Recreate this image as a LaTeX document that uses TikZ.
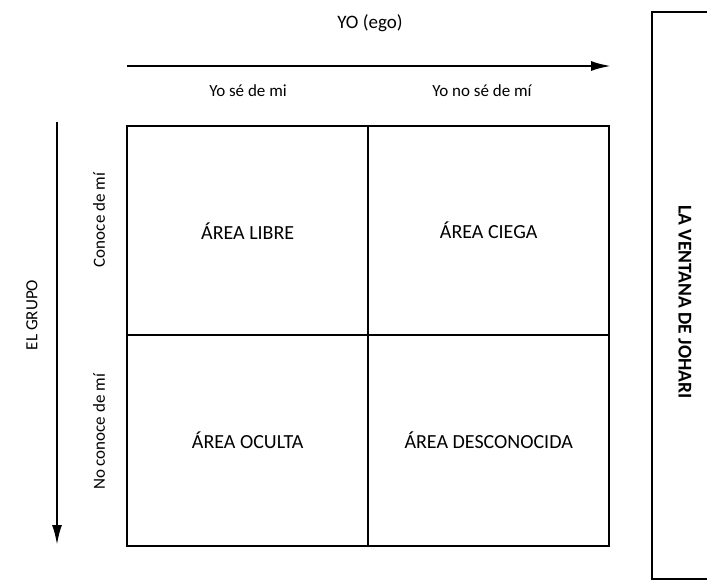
\documentclass[tikz,border=0pt]{standalone}
\usepackage{fontspec}
\setmainfont{Carlito}
\usetikzlibrary{arrows.meta}
\begin{document}
\begin{tikzpicture}[x=1pt,y=-1pt,
  cell/.style={draw, line width=2.4pt, minimum width=241pt, minimum height=209pt, inner sep=0pt, anchor=north west, font=\fontsize{20}{22}\selectfont},
  lbl/.style={inner sep=0pt, font=\fontsize{17}{20}\selectfont},
  axis/.style={line width=2.2pt, -{Latex[length=20pt,width=10pt]}},
  frameline/.style={line width=2.8pt, line cap=rect}]
\useasboundingbox (0,0) rectangle (707,582);
% grid cells
\node[cell] (libre) at (126,125) {ÁREA LIBRE};
\node[cell] (ciega) at (367,125) {ÁREA CIEGA};
\node[cell, minimum height=211pt] (oculta) at (126,334) {ÁREA OCULTA};
\node[cell, minimum height=211pt] (desc) at (367,334) {ÁREA DESCONOCIDA};
% top axis
\node[lbl, font=\fontsize{19}{22}\selectfont] (yo) at (370,23) {YO (ego)};
\coordinate (ta) at (127,66);
\coordinate (tb) at (611,66);
\draw[axis] (ta) -- (tb);
\node[lbl] (se) at (248,91) {Yo sé de mi};
\node[lbl] (nose) at (482,91) {Yo no sé de mí};
% left axis
\coordinate (la) at (57,122);
\coordinate (lb) at (57,545);
\draw[axis] (la) -- (lb);
\node[lbl] [rotate=90] (grupo) at (32,315) {EL GRUPO};
\node[lbl] [rotate=90] (conoce) at (99,220) {Conoce de mí};
\node[lbl] [rotate=90] (noconoce) at (99,432) {No conoce de mí};
% right frame (open on the right, cut by the page edge)
\coordinate (ra) at (712,12);
\coordinate (rb) at (652,12);
\coordinate (rc) at (652,579);
\coordinate (rd) at (712,579);
\draw[frameline] (rb) -- (ra);
\draw[frameline] (rb) -- (rc);
\draw[frameline] (rc) -- (rd);
\node[lbl, rotate=-90, font=\fontsize{19.5}{22}\selectfont\bfseries] (johari) at (685,302) {LA VENTANA DE JOHARI};
\end{tikzpicture}
\end{document}
